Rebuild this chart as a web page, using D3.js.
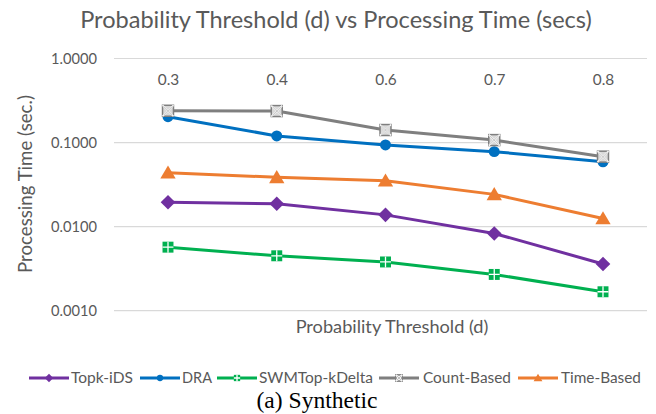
<!DOCTYPE html>
<html>
<head>
<meta charset="utf-8">
<script src="https://cdn.jsdelivr.net/npm/d3@7"></script>
<style>
  html, body { margin: 0; padding: 0; background: #fff; }
  svg { display: block; }
</style>
</head>
<body>
<svg id="chart" width="656" height="414"></svg>
<script>
// Probability threshold values (x categories)
const thresholds = ["0.3", "0.4", "0.6", "0.7", "0.8"];

// Processing time in seconds, one array per method
const topkIDS      = [0.0195, 0.0187, 0.0138, 0.0083, 0.0036];
const dra          = [0.203, 0.120, 0.0936, 0.078, 0.059];
const swmTopKDelta = [0.0057, 0.0045, 0.0038, 0.0027, 0.00168];
const countBased   = [0.239, 0.237, 0.141, 0.107, 0.068];
const timeBased    = [0.0438, 0.0386, 0.0352, 0.0242, 0.0125];

const seriesNames = ["Topk-iDS", "DRA", "SWMTop-kDelta", "Count-Based", "Time-Based"];
const yTicks = [1, 0.1, 0.01, 0.001];
const yTickLabels = ["1.0000", "0.1000", "0.0100", "0.0010"];

const series = [
  { name: seriesNames[0], values: topkIDS,      color: "#7030A0", marker: "diamond" },
  { name: seriesNames[1], values: dra,          color: "#0070C0", marker: "circle" },
  { name: seriesNames[2], values: swmTopKDelta, color: "#00B050", marker: "plusbox" },
  { name: seriesNames[3], values: countBased,   color: "#7F7F7F", marker: "xbox" },
  { name: seriesNames[4], values: timeBased,    color: "#ED7D31", marker: "triangle" }
];

const svg = d3.select("#chart");
const font = "Lato, 'Open Sans', 'Noto Sans', sans-serif";
const textGray = "#595959";

// Shrink or grow a text element's font so it spans the given width
function fitWidth(sel, w) {
  const node = sel.node();
  const fs = parseFloat(sel.attr("font-size"));
  const cur = node.getComputedTextLength();
  if (cur > 0) sel.attr("font-size", (fs * w / cur).toFixed(2));
  return sel;
}

const plotLeft = 114, plotRight = 647;
const x = d3.scalePoint().domain(thresholds).range([168, 603]);
const y = d3.scaleLog().domain([0.001, 1]).range([310.7, 58.5]);

// gridlines
svg.append("g").selectAll("line").data(yTicks).join("line")
  .attr("x1", plotLeft).attr("x2", plotRight)
  .attr("y1", d => y(d)).attr("y2", d => y(d))
  .attr("stroke", "#D9D9D9").attr("stroke-width", 1.2);

// y tick labels
const yAxis = d3.axisLeft(y).tickValues(yTicks)
  .tickFormat((d, i) => yTickLabels[i]).tickSize(0).tickPadding(0);
const yg = svg.append("g").attr("transform", "translate(97,0)").call(yAxis);
yg.select(".domain").remove();
yg.selectAll("text").attr("font-family", font).attr("font-size", 13)
  .attr("fill", textGray).attr("dy", "0.35em")
  .each(function () { fitWidth(d3.select(this), 46); });

// x category labels, drawn below the top gridline
const xAxis = d3.axisBottom(x).tickSize(0).tickPadding(0);
const xg = svg.append("g").attr("transform", "translate(0,80)").call(xAxis);
xg.select(".domain").remove();
xg.selectAll("text").attr("font-family", font).attr("font-size", 13)
  .attr("fill", textGray).attr("dy", "0.35em")
  .each(function () { fitWidth(d3.select(this), 21.5); });

// title
const title = svg.append("text").attr("x", 336).attr("y", 28)
  .attr("text-anchor", "middle").attr("font-family", font).attr("font-size", 19)
  .attr("fill", textGray).text("Probability Threshold (d) vs Processing Time (secs)");
fitWidth(title, 512);

// axis titles
const yTitle = svg.append("text")
  .attr("transform", "translate(32,184) rotate(-90)")
  .attr("text-anchor", "middle").attr("font-family", font).attr("font-size", 13)
  .attr("fill", textGray).text("Processing Time (sec.)");
fitWidth(yTitle, 178);

const xTitle = svg.append("text").attr("x", 392).attr("y", 333)
  .attr("text-anchor", "middle").attr("font-family", font).attr("font-size", 13)
  .attr("fill", textGray).text("Probability Threshold (d)");
fitWidth(xTitle, 193);

// marker drawing
function drawMarker(g, type, color, s) {
  if (type === "diamond") {
    g.append("path").attr("d", `M0,${-s}L${s},0L0,${s}L${-s},0Z`).attr("fill", color);
  } else if (type === "circle") {
    g.append("circle").attr("r", s * 0.75).attr("fill", color);
  } else if (type === "triangle") {
    const h = s * 1.0;
    g.append("path").attr("d", `M0,${-h}L${h * 1.05},${h * 0.8}L${-h * 1.05},${h * 0.8}Z`).attr("fill", color);
  } else if (type === "plusbox") {
    const a = s * 0.75;
    g.append("rect").attr("x", -a).attr("y", -a).attr("width", 2 * a).attr("height", 2 * a).attr("fill", color);
    g.append("path").attr("d", `M0,${-a}V${a}M${-a},0H${a}`).attr("stroke", "#fff").attr("stroke-width", 1.3);
  } else if (type === "xbox") {
    const a = s * 0.75;
    g.append("rect").attr("x", -a).attr("y", -a).attr("width", 2 * a).attr("height", 2 * a)
      .attr("fill", "#d9d9d9").attr("stroke", color).attr("stroke-width", 1.5);
    g.append("path").attr("d", `M${-a},${-a}L${a},${a}M${a},${-a}L${-a},${a}`)
      .attr("stroke", "#fff").attr("stroke-width", 1.6);
    g.append("path").attr("d", `M${-a + 1},${-a + 1}L${a - 1},${a - 1}M${a - 1},${-a + 1}L${-a + 1},${a - 1}`)
      .attr("stroke", color).attr("stroke-width", 0.8).attr("opacity", 0.6);
  }
}

const line = d3.line().x((d, i) => x(thresholds[i])).y(d => y(d));

// draw series bottom-up so the gray line sits on top of blue
const drawOrder = [2, 0, 4, 1, 3];
drawOrder.forEach(k => {
  const s = series[k];
  const g = svg.append("g");
  g.append("path").datum(s.values).attr("d", line)
    .attr("fill", "none").attr("stroke", s.color).attr("stroke-width", 3)
    .attr("stroke-linejoin", "round").attr("stroke-linecap", "round");
  g.selectAll("g.m").data(s.values).join("g").attr("class", "m")
    .attr("transform", (d, i) => `translate(${x(thresholds[i])},${y(d)})`)
    .each(function () { drawMarker(d3.select(this), s.marker, s.color, 7.3); });
});

// legend
const legendItems = [
  { lx: 29, tx: 71, tw: 62 },
  { lx: 140, tx: 182, tw: 30 },
  { lx: 217, tx: 259, tw: 114 },
  { lx: 379, tx: 423, tw: 88 },
  { lx: 518, tx: 561, tw: 80 }
];
const legY = 378;
series.forEach((s, i) => {
  const it = legendItems[i];
  const g = svg.append("g");
  g.append("line").attr("x1", it.lx).attr("x2", it.lx + 40).attr("y1", legY).attr("y2", legY)
    .attr("stroke", s.color).attr("stroke-width", 3);
  const mg = g.append("g").attr("transform", `translate(${it.lx + 20},${legY})`);
  drawMarker(mg, s.marker, s.color, 4.2);
  const t = g.append("text").attr("x", it.tx).attr("y", legY).attr("dy", "0.35em")
    .attr("font-family", font).attr("font-size", 13).attr("fill", textGray).text(s.name);
  fitWidth(t, it.tw);
});

// caption
const cap = svg.append("text").attr("x", 317).attr("y", 408)
  .attr("text-anchor", "middle").attr("font-family", "'Liberation Serif', 'Times New Roman', serif")
  .attr("font-size", 19).attr("fill", "#000").text("(a) Synthetic");
fitWidth(cap, 121);
</script>
</body>
</html>
